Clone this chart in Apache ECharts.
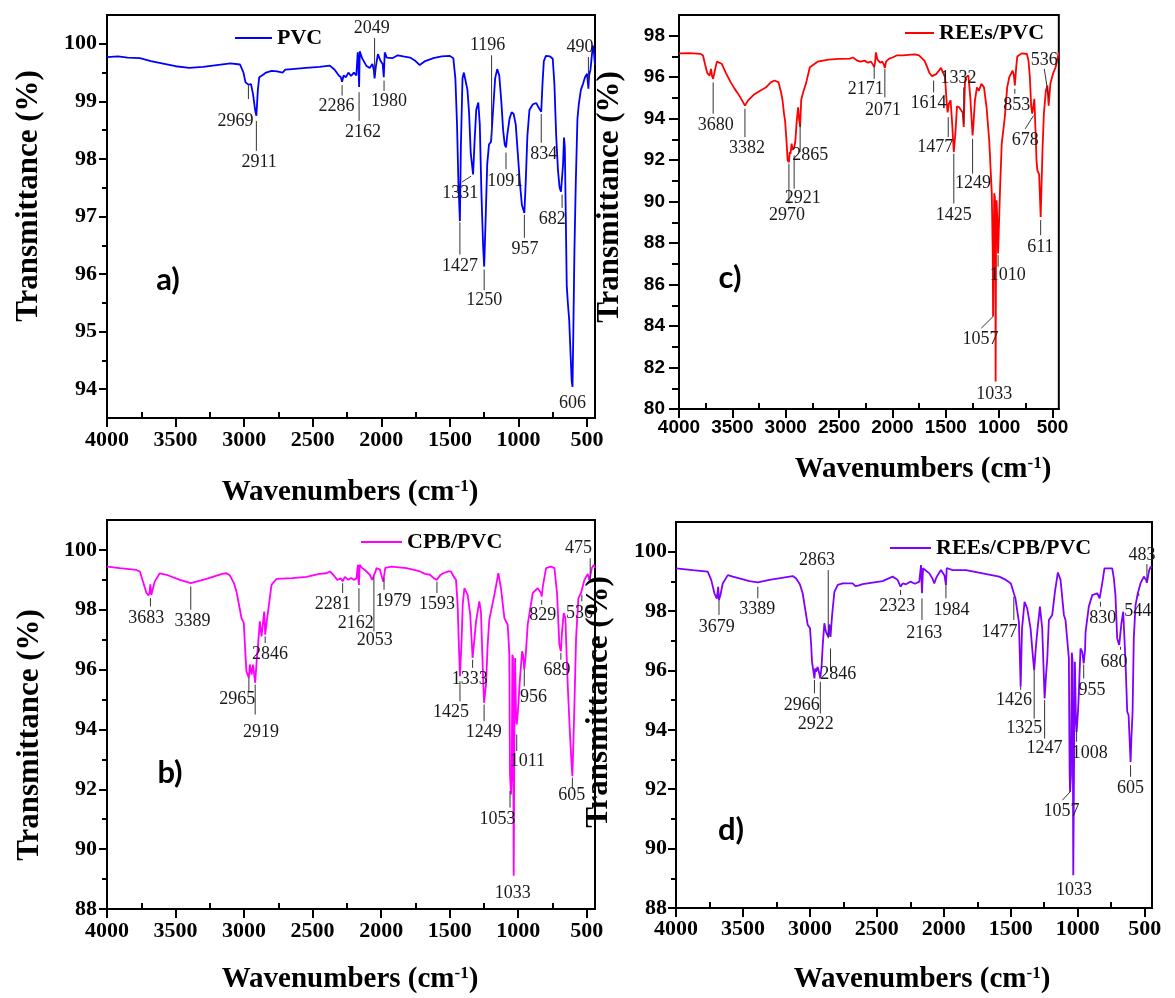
<!DOCTYPE html>
<html>
<head>
<meta charset="utf-8">
<script src="https://cdn.jsdelivr.net/npm/echarts@6/dist/echarts.min.js"></script>
<style>
  html, body { margin: 0; padding: 0; background: #fff; }
  #chart { width: 1175px; height: 998px; }
</style>
</head>
<body>
<div id="chart"></div>
<script>
// ---------------- FTIR spectra: [wavenumber (cm-1), transmittance (%)] ----------------
const pvcSpectrum = [
  [4000,99.77],[3920,99.78],[3850,99.76],[3760,99.75],[3680,99.70],[3600,99.66],[3500,99.61],[3400,99.58],
  [3300,99.60],[3200,99.63],[3100,99.66],[3030,99.64],[3005,99.50],[2990,99.33],[2980,99.36],[2969,99.29],
  [2950,99.30],[2935,99.12],[2920,98.85],[2911,98.75],[2900,99.20],[2890,99.42],[2870,99.45],[2840,99.50],
  [2800,99.53],[2760,99.52],[2720,99.50],[2700,99.55],[2650,99.56],[2550,99.58],[2450,99.60],[2375,99.62],
  [2340,99.55],[2310,99.45],[2295,99.42],[2286,99.34],[2275,99.45],[2258,99.42],[2240,99.50],[2220,99.44],
  [2200,99.50],[2182,99.45],[2172,99.85],[2166,99.60],[2162,99.25],[2157,99.87],[2140,99.75],[2110,99.62],
  [2085,99.58],[2065,99.65],[2055,99.55],[2049,99.40],[2040,99.60],[2025,99.82],[2005,99.70],[1990,99.65],
  [1982,99.42],[1975,99.85],[1960,99.76],[1920,99.75],[1880,99.80],[1840,99.78],[1790,99.76],[1750,99.70],
  [1720,99.63],[1680,99.70],[1620,99.75],[1560,99.78],[1500,99.79],[1475,99.75],[1460,99.40],[1448,98.60],
  [1438,97.60],[1427,96.92],[1420,98.20],[1408,99.40],[1398,99.50],[1385,99.35],[1372,99.20],[1360,98.80],
  [1348,98.10],[1331,97.73],[1320,98.30],[1308,98.85],[1293,98.98],[1282,98.60],[1270,97.40],[1258,96.50],
  [1250,96.13],[1240,96.90],[1228,97.90],[1215,98.25],[1200,98.30],[1196,98.32],[1185,98.85],[1170,99.40],
  [1155,99.56],[1140,99.45],[1125,99.00],[1112,98.50],[1100,98.25],[1091,98.20],[1080,98.45],[1065,98.70],
  [1050,98.81],[1035,98.78],[1020,98.60],[1005,98.10],[990,97.60],[975,97.20],[957,97.06],[947,97.60],
  [935,98.40],[920,98.85],[895,98.95],[870,98.97],[850,98.88],[834,98.82],[825,99.30],[815,99.70],
  [800,99.79],[770,99.78],[750,99.74],[738,99.30],[725,98.40],[712,97.80],[700,97.50],[690,97.43],
  [682,97.41],[675,97.90],[668,98.37],[662,98.20],[655,97.00],[648,95.80],[640,95.50],[630,95.20],
  [620,94.60],[612,94.15],[606,94.04],[600,95.00],[592,96.40],[582,97.60],[570,98.70],[560,98.95],
  [545,99.20],[530,99.30],[515,99.42],[500,99.48],[493,99.30],[490,99.22],[485,99.45],[475,99.55],
  [465,99.80],[458,99.97],[450,99.85],[442,99.63]
];

const reesPvcSpectrum = [
  [4000,97.15],[3900,97.16],[3800,97.13],[3775,97.05],[3755,96.60],[3735,96.20],[3713,96.08],[3700,96.40],
  [3690,96.05],[3680,95.92],[3665,96.30],[3645,96.75],[3632,96.80],[3600,96.65],[3560,96.20],[3520,95.80],
  [3480,95.45],[3440,95.15],[3400,94.80],[3382,94.63],[3350,94.90],[3300,95.15],[3240,95.35],[3187,95.50],
  [3140,95.75],[3104,95.84],[3067,95.75],[3045,95.30],[3030,94.90],[3015,94.20],[3006,93.90],[2993,92.95],
  [2982,92.00],[2970,91.90],[2962,92.40],[2955,92.30],[2945,92.80],[2935,92.50],[2921,92.60],[2910,92.90],
  [2898,93.80],[2884,94.55],[2875,94.00],[2865,93.60],[2855,94.90],[2835,95.30],[2811,95.68],[2774,96.48],
  [2701,96.75],[2600,96.85],[2500,96.88],[2400,96.90],[2370,96.95],[2330,96.80],[2300,96.75],[2260,96.80],
  [2230,96.70],[2200,96.75],[2185,96.70],[2171,96.50],[2163,96.70],[2155,97.20],[2140,96.85],[2115,96.70],
  [2095,96.75],[2080,96.60],[2071,96.45],[2060,96.75],[2030,96.90],[2000,96.95],[1960,97.05],[1900,97.05],
  [1850,97.08],[1790,97.10],[1751,97.05],[1720,96.90],[1700,96.80],[1675,96.50],[1653,96.20],[1630,96.05],
  [1614,96.03],[1590,96.15],[1560,96.35],[1545,96.45],[1530,96.40],[1507,96.00],[1492,94.80],[1483,94.30],
  [1477,94.24],[1471,94.72],[1455,94.88],[1440,93.75],[1425,92.39],[1410,93.30],[1395,94.60],[1375,94.55],
  [1355,94.40],[1342,94.30],[1332,93.60],[1320,95.80],[1312,96.00],[1288,96.08],[1270,95.00],[1249,93.19],
  [1240,93.80],[1227,94.88],[1208,95.51],[1190,95.35],[1166,95.68],[1142,95.51],[1118,94.55],[1093,92.95],
  [1069,90.40],[1060,87.50],[1057,84.46],[1051,88.00],[1046,90.40],[1040,90.20],[1036,88.00],[1033,81.33],
  [1029,88.50],[1025,90.07],[1018,89.26],[1010,87.50],[991,90.71],[976,92.79],[947,94.07],[925,95.50],
  [905,96.00],[875,96.32],[862,96.10],[853,95.60],[840,96.50],[830,97.00],[790,97.15],[740,97.12],
  [725,96.80],[712,96.00],[700,94.60],[690,94.25],[678,94.22],[670,94.96],[660,93.50],[650,92.00],
  [642,91.51],[625,91.30],[611,89.26],[594,92.47],[581,94.24],[562,95.36],[548,95.60],[536,94.63],
  [520,95.68],[496,96.16],[471,96.48],[441,97.20]
];

const cpbPvcSpectrum = [
  [4000,99.44],[3907,99.39],[3786,99.33],[3760,99.28],[3737,98.94],[3712,98.56],[3697,98.48],[3690,98.55],
  [3684,98.85],[3676,98.50],[3665,98.52],[3652,98.94],[3615,99.22],[3566,99.17],[3469,99.00],[3389,98.89],
  [3274,99.03],[3160,99.20],[3128,99.22],[3104,99.15],[3075,98.90],[3055,98.60],[3030,98.00],[3019,97.72],
  [3002,97.56],[2990,96.50],[2983,95.94],[2965,95.72],[2958,96.17],[2945,95.83],[2935,96.17],[2928,95.90],
  [2919,95.56],[2908,96.30],[2898,96.83],[2885,97.61],[2873,97.11],[2861,97.61],[2853,97.94],[2846,97.17],
  [2835,97.60],[2825,97.94],[2800,98.83],[2764,99.03],[2650,99.06],[2545,99.10],[2450,99.20],[2399,99.22],
  [2374,99.28],[2350,99.17],[2320,99.00],[2309,98.94],[2295,99.05],[2281,98.95],[2265,99.10],[2240,99.00],
  [2220,99.06],[2200,99.00],[2180,99.05],[2170,99.50],[2166,99.00],[2162,98.83],[2157,99.50],[2140,99.40],
  [2119,99.33],[2083,99.17],[2065,99.00],[2053,98.94],[2040,99.30],[2034,99.39],[2010,99.35],[1997,99.33],
  [1985,98.94],[1979,98.94],[1970,99.40],[1961,99.39],[1924,99.44],[1870,99.42],[1815,99.39],[1760,99.33],
  [1717,99.28],[1680,99.20],[1644,99.17],[1615,99.05],[1593,99.00],[1570,99.15],[1547,99.22],[1510,99.28],
  [1491,99.28],[1470,99.10],[1454,99.00],[1442,98.17],[1433,96.80],[1425,95.78],[1413,97.00],[1405,98.17],
  [1393,98.72],[1369,98.50],[1350,97.83],[1340,97.00],[1333,96.39],[1320,97.00],[1308,97.60],[1284,98.28],
  [1272,97.94],[1262,96.50],[1252,95.20],[1249,94.89],[1240,95.30],[1235,95.50],[1223,96.83],[1211,97.67],
  [1199,97.72],[1174,98.50],[1145,99.22],[1126,98.72],[1101,97.72],[1077,97.50],[1068,96.80],[1065,96.50],
  [1060,92.50],[1053,91.83],[1047,92.50],[1043,96.50],[1038,96.40],[1033,89.11],[1028,94.00],[1023,96.39],
  [1016,94.50],[1011,94.17],[1004,94.50],[987,95.72],[972,96.61],[965,96.50],[956,96.00],[945,96.50],
  [931,97.50],[894,98.56],[858,98.72],[834,98.56],[829,98.44],[820,98.80],[797,99.39],[761,99.44],
  [736,99.39],[717,98.56],[700,96.83],[689,96.61],[680,97.30],[668,97.89],[656,97.72],[647,96.50],
  [639,95.50],[627,94.28],[615,93.17],[605,92.44],[598,93.50],[590,94.83],[578,97.06],[561,98.39],
  [542,98.56],[536,98.67],[517,99.00],[493,99.20],[482,99.00],[475,99.10],[463,99.40],[449,99.50],[440,99.40]
];

const reesCpbPvcSpectrum = [
  [4000,99.44],[3875,99.38],[3763,99.33],[3737,99.05],[3713,98.60],[3695,98.42],[3685,98.82],[3679,98.37],
  [3668,98.54],[3651,98.93],[3613,99.21],[3576,99.16],[3451,99.01],[3389,98.97],[3302,99.05],[3128,99.18],
  [3103,99.10],[3075,98.90],[3054,98.60],[3016,97.53],[2999,97.42],[2990,96.80],[2984,96.29],[2966,95.73],
  [2960,96.07],[2954,95.96],[2942,96.12],[2930,95.90],[2922,95.73],[2912,96.20],[2904,96.86],[2892,97.59],
  [2880,97.30],[2863,97.13],[2855,97.55],[2846,97.13],[2834,97.87],[2817,98.65],[2792,98.88],[2755,98.93],
  [2681,98.93],[2660,98.84],[2640,98.86],[2606,98.91],[2457,99.01],[2382,99.16],[2360,99.10],[2345,99.05],
  [2323,98.82],[2307,98.93],[2282,98.90],[2250,98.99],[2215,98.92],[2183,98.99],[2170,99.55],[2166,99.00],
  [2163,98.60],[2155,99.44],[2108,99.27],[2085,99.10],[2071,98.93],[2058,99.10],[2046,99.21],[2021,99.38],
  [1995,99.20],[1984,98.88],[1978,99.45],[1964,99.44],[1934,99.38],[1834,99.38],[1710,99.27],[1586,99.16],
  [1536,99.05],[1499,98.93],[1477,98.60],[1465,98.43],[1451,98.00],[1439,97.64],[1426,95.45],[1416,97.40],
  [1406,97.87],[1397,98.31],[1377,98.09],[1352,97.42],[1335,96.50],[1325,96.01],[1312,96.80],[1302,97.30],
  [1282,98.15],[1265,97.42],[1247,95.06],[1237,95.80],[1227,96.41],[1215,97.70],[1190,97.87],[1170,98.65],
  [1148,99.30],[1128,99.05],[1103,97.87],[1091,97.70],[1066,96.41],[1060,92.50],[1057,91.91],[1050,92.50],
  [1044,96.60],[1038,96.30],[1033,89.10],[1027,93.00],[1021,96.29],[1014,94.50],[1008,93.93],[998,94.60],
  [991,95.28],[979,96.74],[966,96.63],[955,96.24],[945,96.70],[941,97.30],[917,98.15],[891,98.54],
  [854,98.60],[836,98.43],[830,98.43],[818,98.90],[800,99.44],[742,99.44],[730,99.10],[718,98.54],
  [705,97.08],[690,96.86],[680,96.86],[673,97.60],[660,97.98],[650,97.00],[643,96.29],[630,94.61],
  [620,94.50],[605,92.92],[598,93.80],[590,94.61],[581,97.08],[568,98.20],[551,98.60],[544,98.60],
  [531,98.93],[506,99.16],[489,99.05],[483,98.95],[477,99.00],[466,99.38],[454,99.50],[445,99.45]
];

// ---------------- Peak annotations: [label, lineX1, lineY1, lineX2, lineY2, textX, textY] ----------------
const pvcNotes = [
  ['2969', 2969, 99.28, 2969, 99.04, 3064, 98.65],
  ['2911', 2911, 98.66, 2911, 98.14, 2891, 97.94],
  ['2286', 2286, 99.28, 2286, 99.10, 2327, 98.91],
  ['2162', 2162, 99.16, 2162, 98.66, 2133, 98.46],
  ['2049', 2049, 99.48, 2049, 100.10, 2069, 100.27],
  ['1980', 1980, 99.36, 1980, 99.18, 1944, 99.00],
  ['1196', 1196, 98.34, 1196, 99.80, 1225, 99.98],
  ['1331', 1346, 97.70, 1411, 97.60, 1424, 97.40],
  ['1427', 1427, 96.90, 1427, 96.34, 1427, 96.13],
  ['1250', 1250, 96.08, 1250, 95.72, 1250, 95.54],
  ['1091', 1091, 98.11, 1091, 97.82, 1096, 97.61],
  ['957', 957, 97.03, 957, 96.63, 952, 96.43],
  ['834', 834, 98.78, 834, 98.28, 815, 98.08],
  ['682', 682, 97.38, 682, 97.15, 753, 96.95],
  ['606', null, null, null, null, 606, 93.76],
  ['490', 490, 99.36, 490, 99.77, 551, 99.94]
];

const reesPvcNotes = [
  ['3680', 3680, 95.75, 3680, 94.24, 3656, 93.67],
  ['3382', 3382, 94.48, 3382, 93.11, 3362, 92.55],
  ['2970', 2970, 91.83, 2970, 89.91, 2989, 89.35],
  ['2921', 2921, 92.23, 2921, 90.63, 2841, 90.15],
  ['2865', 2865, 93.75, 2865, 92.39, 2770, 92.23],
  ['2171', 2171, 96.56, 2171, 95.92, 2251, 95.44],
  ['2071', 2071, 96.40, 2071, 95.03, 2088, 94.39],
  ['1614', 1614, 95.84, 1614, 95.27, 1662, 94.72],
  ['1477', 1477, 94.07, 1477, 93.11, 1599, 92.63],
  ['1425', 1425, 92.31, 1425, 89.91, 1425, 89.35],
  ['1332', 1332, 93.75, 1332, 95.51, 1380, 95.97],
  ['1249', 1249, 93.03, 1249, 91.35, 1244, 90.87],
  ['1057', 1057, 84.46, 1167, 83.90, 1174, 83.37],
  ['1033', null, null, null, null, 1045, 80.69],
  ['1010', 1010, 87.42, 1010, 86.86, 920, 86.46],
  ['853', 853, 95.44, 853, 95.20, 834, 94.63],
  ['678', 678, 94.15, 756, 93.51, 756, 92.95],
  ['611', 611, 89.11, 611, 88.38, 614, 87.82],
  ['536', 536, 95.03, 577, 96.40, 577, 96.83]
];

const cpbPvcNotes = [
  ['3683', 3683, 98.39, 3683, 98.11, 3714, 97.72],
  ['3389', 3389, 98.78, 3389, 98.00, 3377, 97.61],
  ['2965', 2965, 95.72, 2965, 95.28, 3050, 95.00],
  ['2919', 2919, 95.50, 2919, 94.50, 2877, 93.91],
  ['2846', 2846, 97.11, 2846, 96.89, 2810, 96.50],
  ['2281', 2281, 98.89, 2281, 98.56, 2354, 98.19],
  ['2162', 2162, 98.72, 2162, 97.92, 2186, 97.56],
  ['2053', 2053, 99.11, 2053, 97.28, 2046, 96.97],
  ['1979', 1979, 99.06, 1979, 98.67, 1911, 98.28],
  ['1593', 1593, 98.94, 1593, 98.56, 1593, 98.19],
  ['1425', 1425, 95.61, 1425, 94.94, 1491, 94.56],
  ['1333', 1333, 96.33, 1333, 96.06, 1353, 95.67],
  ['1249', 1249, 94.83, 1249, 94.28, 1252, 93.89],
  ['1053', 1060, 91.94, 1060, 91.39, 1151, 91.00],
  ['1033', null, null, null, null, 1040, 88.52],
  ['1011', 1011, 93.83, 1011, 93.28, 933, 92.94],
  ['956', 956, 96.00, 956, 95.44, 888, 95.08],
  ['829', 829, 98.33, 829, 98.17, 822, 97.83],
  ['689', 689, 96.56, 689, 96.33, 718, 95.98],
  ['605', 605, 92.39, 605, 92.00, 610, 91.80],
  ['536', 536, 98.50, 536, 98.28, 553, 97.89],
  ['475', 475, 99.00, 475, 99.72, 560, 100.06]
];

const reesCpbPvcNotes = [
  ['3679', 3679, 98.37, 3679, 97.87, 3696, 97.47],
  ['3389', 3389, 98.82, 3389, 98.43, 3393, 98.07],
  ['2966', 2966, 95.68, 2966, 95.23, 3061, 94.83],
  ['2922', 2922, 95.62, 2922, 94.55, 2957, 94.18],
  ['2863', 2863, 97.08, 2863, 99.38, 2947, 99.72],
  ['2846', 2846, 96.74, 2846, 95.96, 2789, 95.87],
  ['2323', 2323, 98.71, 2323, 98.54, 2348, 98.17],
  ['2163', 2163, 98.43, 2163, 97.70, 2146, 97.25],
  ['1984', 1984, 98.93, 1984, 98.43, 1942, 98.03],
  ['1477', 1477, 98.48, 1477, 97.70, 1584, 97.30],
  ['1426', 1426, 95.45, 1426, 95.35, 1476, 95.00],
  ['1325', 1325, 96.01, 1325, 94.38, 1400, 94.07],
  ['1247', 1247, 95.00, 1247, 93.71, 1247, 93.37],
  ['1057', 1057, 91.91, 1114, 91.63, 1120, 91.26],
  ['1033', null, null, null, null, 1028, 88.60],
  ['1008', 1008, 93.99, 1008, 93.60, 909, 93.20],
  ['955', 955, 96.20, 955, 95.73, 893, 95.34],
  ['830', 830, 98.31, 830, 98.15, 813, 97.75],
  ['680', 680, 96.80, 680, 96.70, 729, 96.29],
  ['605', 605, 92.81, 605, 92.42, 605, 92.03],
  ['544', 544, 98.60, 544, 98.50, 551, 98.00],
  ['483', 483, 99.05, 483, 99.58, 520, 99.89]
];

// ---------------- Axis ticks ----------------
const xMajorTicks = [500, 1000, 1500, 2000, 2500, 3000, 3500, 4000];
const xMinorTicks = [750, 1250, 1750, 2250, 2750, 3250, 3750];
const yMajorTicksA = [94, 95, 96, 97, 98, 99, 100];
const yMinorTicksA = [94.5, 95.5, 96.5, 97.5, 98.5, 99.5];
const yMajorTicksC = [80, 82, 84, 86, 88, 90, 92, 94, 96, 98];
const yMinorTicksC = [81, 83, 85, 87, 89, 91, 93, 95, 97];
const yMajorTicksBD = [88, 90, 92, 94, 96, 98, 100];
const yMinorTicksBD = [89, 91, 93, 95, 97, 99];

const seriesNames = ['PVC', 'REEs/PVC', 'CPB/PVC', 'REEs/CPB/PVC'];
const panelLetters = ['a)', 'c)', 'b)', 'd)'];

const SERIF = '"Liberation Serif", "Times New Roman", serif';
const SANS = '"Liberation Sans", Arial, sans-serif';

const panels = [
  { name: seriesNames[0], color: '#0000ff', spectrum: pvcSpectrum, notes: pvcNotes,
    grid: { left: 107, top: 15, width: 488, height: 403 }, xMin: 442, yMin: 93.5, yMax: 100.5,
    yMajor: yMajorTicksA, yMinor: yMinorTicksA, tickFont: SERIF, tickSize: 22, xMargin: 11, yMargin: 10, yTickLen: 8,
    legend: { left: 235, top: 27, itemWidth: 37 } },
  { name: seriesNames[1], color: '#ff0000', spectrum: reesPvcSpectrum, notes: reesPvcNotes,
    grid: { left: 679, top: 15, width: 487, height: 394 }, xMin: 441, yMin: 80, yMax: 99,
    yMajor: yMajorTicksC, yMinor: yMinorTicksC, tickFont: SANS, tickSize: 19, xMargin: 9, yMargin: 14, yTickLen: 10,
    legend: { left: 905, top: 22, itemWidth: 29 } },
  { name: seriesNames[2], color: '#ff00ff', spectrum: cpbPvcSpectrum, notes: cpbPvcNotes,
    grid: { left: 107, top: 520, width: 488, height: 389 }, xMin: 440, yMin: 88, yMax: 101,
    yMajor: yMajorTicksBD, yMinor: yMinorTicksBD, tickFont: SERIF, tickSize: 22, xMargin: 11, yMargin: 10, yTickLen: 8,
    legend: { left: 361, top: 531, itemWidth: 41 } },
  { name: seriesNames[3], color: '#8000ff', spectrum: reesCpbPvcSpectrum, notes: reesCpbPvcNotes,
    grid: { left: 676, top: 522, width: 476, height: 386 }, xMin: 445, yMin: 88, yMax: 101,
    yMajor: yMajorTicksBD, yMinor: yMinorTicksBD, tickFont: SERIF, tickSize: 22, xMargin: 10, yMargin: 9, yTickLen: 8,
    legend: { left: 890, top: 537, itemWidth: 41 } }
];

const black = { color: '#000', width: 2 };
const plain = function (v) { return String(v); };
const grids = [], xAxes = [], yAxes = [], series = [], legends = [];

panels.forEach(function (p, i) {
  grids.push(Object.assign({ show: true, borderColor: '#000', borderWidth: 2, backgroundColor: 'transparent' }, p.grid));

  // main x axis: labelled ticks pointing out
  xAxes.push({
    type: 'value', gridIndex: i, inverse: true, min: p.xMin, max: 4000, position: 'bottom',
    axisLine: { show: true, lineStyle: black },
    axisTick: { show: true, inside: false, length: 9, customValues: xMajorTicks, lineStyle: black },
    axisLabel: { show: true, customValues: xMajorTicks, formatter: plain, margin: p.xMargin, fontFamily: p.tickFont,
                 fontWeight: 'bold', fontSize: p.tickSize, color: '#000' },
    splitLine: { show: false }
  });
  // minor x ticks pointing in
  xAxes.push({
    type: 'value', gridIndex: i, inverse: true, min: p.xMin, max: 4000, position: 'bottom',
    axisLine: { show: false },
    axisTick: { show: true, inside: true, length: 6, customValues: xMinorTicks, lineStyle: black },
    axisLabel: { show: false },
    splitLine: { show: false }
  });
  // main y axis
  yAxes.push({
    type: 'value', gridIndex: i, min: p.yMin, max: p.yMax, position: 'left',
    axisLine: { show: true, lineStyle: black },
    axisTick: { show: true, inside: false, length: p.yTickLen, customValues: p.yMajor, lineStyle: black },
    axisLabel: { show: true, customValues: p.yMajor, formatter: plain, margin: p.yMargin, fontFamily: p.tickFont,
                 fontWeight: 'bold', fontSize: p.tickSize, color: '#000' },
    splitLine: { show: false }
  });
  // minor y ticks
  yAxes.push({
    type: 'value', gridIndex: i, min: p.yMin, max: p.yMax, position: 'left',
    axisLine: { show: false },
    axisTick: { show: true, inside: false, length: Math.round(p.yTickLen * 0.65), customValues: p.yMinor, lineStyle: black },
    axisLabel: { show: false },
    splitLine: { show: false }
  });

  series.push({
    type: 'line', name: p.name, xAxisIndex: 2 * i, yAxisIndex: 2 * i,
    data: p.spectrum, showSymbol: false, symbol: 'none', smooth: false,
    lineStyle: { color: p.color, width: 1.8 }, itemStyle: { color: p.color },
    z: 3
  });

  const notes = p.notes;
  series.push({
    type: 'custom', xAxisIndex: 2 * i, yAxisIndex: 2 * i, clip: false, silent: true, z: 4,
    data: notes.map(function (n) { return [n[5], n[6]]; }),
    renderItem: function (params, api) {
      const n = notes[params.dataIndex];
      const children = [];
      if (n[1] !== null) {
        const a = api.coord([n[1], n[2]]);
        const b = api.coord([n[3], n[4]]);
        children.push({ type: 'line', shape: { x1: a[0], y1: a[1], x2: b[0], y2: b[1] },
                        style: { stroke: '#333', lineWidth: 1 } });
      }
      const t = api.coord([n[5], n[6]]);
      children.push({ type: 'text', x: t[0], y: t[1],
        style: { text: n[0], fill: '#1a1a1a', fontFamily: SERIF, fontSize: 18,
                 align: 'center', verticalAlign: 'middle' } });
      return { type: 'group', children: children };
    }
  });

  legends.push({
    data: [p.name], left: p.legend.left, top: p.legend.top, padding: 0, itemGap: 0,
    icon: 'rect', itemWidth: p.legend.itemWidth, itemHeight: 2, selectedMode: false,
    textStyle: { fontFamily: SERIF, fontWeight: 'bold', fontSize: 22, color: '#000' }
  });
});

// axis titles and panel letters
function waveTitle(x, y) {
  return { type: 'text', x: x, y: y, z: 10,
    style: { text: 'Wavenumbers (cm{s|-1})', fontFamily: SERIF, fontWeight: 'bold', fontSize: 29,
             fill: '#000', align: 'center', verticalAlign: 'middle',
             rich: { s: { fontFamily: SERIF, fontWeight: 'bold', fontSize: 17, verticalAlign: 'top', padding: [0, 0, 12, 0] } } } };
}
function transTitle(x, y) {
  return { type: 'text', x: x, y: y, rotation: Math.PI / 2, z: 10,
    style: { text: 'Transmittance (%)', fontFamily: SERIF, fontWeight: 'bold', fontSize: 31,
             fill: '#000', align: 'center', verticalAlign: 'middle' } };
}
function letter(txt, x, y) {
  return { type: 'text', x: x, y: y, z: 10,
    style: { text: txt, fontFamily: 'Lato, "Open Sans", sans-serif', fontWeight: 'bold', fontSize: 31,
             fill: '#000', align: 'center', verticalAlign: 'middle' } };
}

const graphics = [
  waveTitle(350, 493), waveTitle(923, 470), waveTitle(350, 980), waveTitle(922, 980),
  transTitle(29, 196), transTitle(610, 197), transTitle(30, 735), transTitle(599, 702),
  letter(panelLetters[0], 168, 280), letter(panelLetters[1], 730, 278),
  letter(panelLetters[2], 170, 773), letter(panelLetters[3], 731, 830)
];

const chart = echarts.init(document.getElementById('chart'), null, { renderer: 'canvas' });
chart.setOption({
  animation: false,
  backgroundColor: '#fff',
  grid: grids,
  xAxis: xAxes,
  yAxis: yAxes,
  legend: legends,
  series: series,
  graphic: graphics
});
</script>
</body>
</html>
